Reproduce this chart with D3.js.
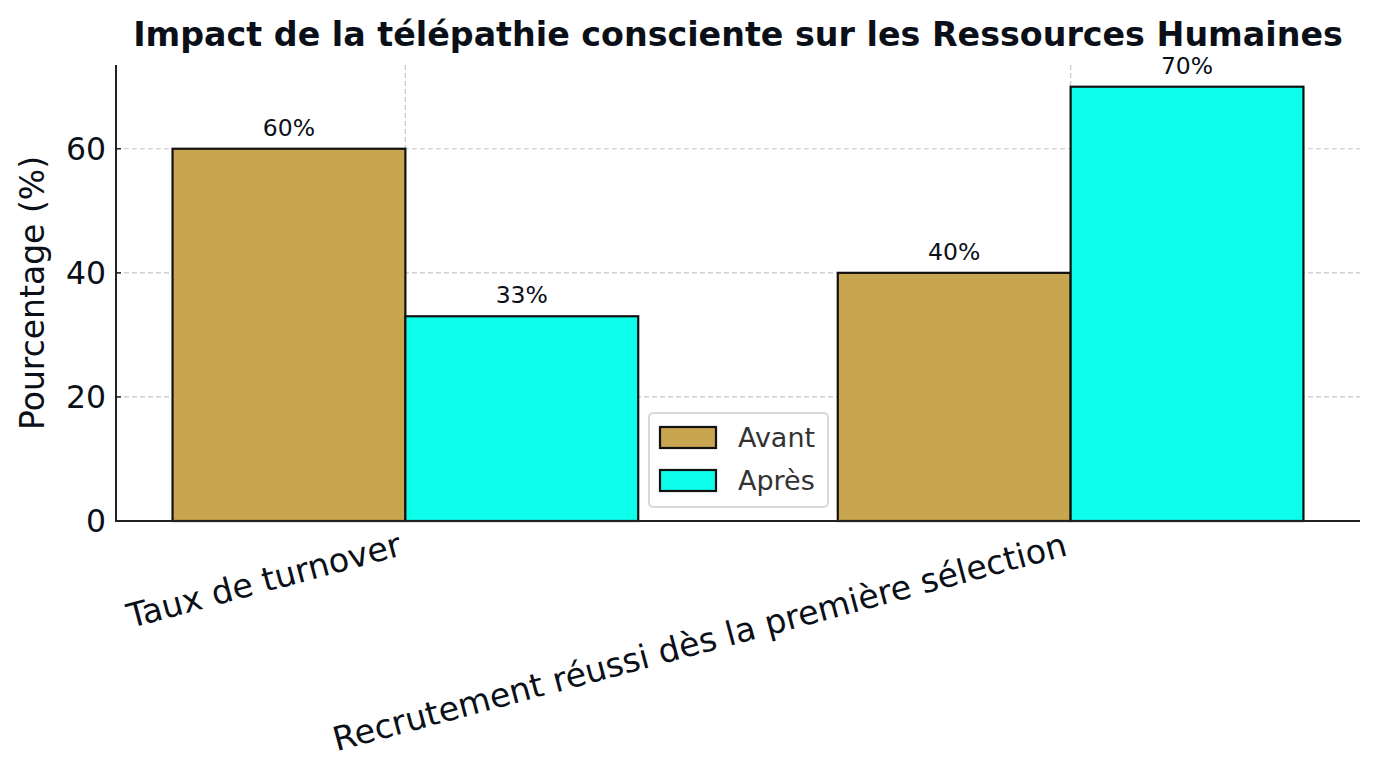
<!DOCTYPE html>
<html>
<head>
<meta charset="utf-8">
<script src="https://cdn.jsdelivr.net/npm/d3@7"></script>
<style>
  html, body { margin: 0; padding: 0; background: #fff; }
  svg { display: block; font-family: "DejaVu Sans", sans-serif; }
</style>
</head>
<body>
<svg id="chart" width="1380" height="780"></svg>
<script>
const categories = ["Taux de turnover", "Recrutement réussi dès la première sélection"];
const seriesNames = ["Avant", "Après"];
const avantValues = [60, 40];
const apresValues = [33, 70];
const yTicks = [0, 20, 40, 60];
const colors = ["#c8a54f", "#0efeec"];
const title = "Impact de la télépathie consciente sur les Ressources Humaines";
const yLabel = "Pourcentage (%)";

const svg = d3.select("#chart");
const pLeft = 116, pRight = 1360, pTop = 65, pBottom = 521;
const barWidth = 0.35;

const x = d3.scaleLinear().domain([-0.435, 1.435]).range([pLeft, pRight]);
const y = d3.scaleLinear().domain([0, 73.5]).range([pBottom, pTop]);

const txt = "#0b1018";

// grid (below bars)
const grid = svg.append("g");
yTicks.filter(t => t > 0).forEach(t => {
  grid.append("line").attr("x1", pLeft).attr("x2", pRight)
    .attr("y1", y(t)).attr("y2", y(t))
    .attr("stroke", "#c8c8c8").attr("stroke-width", 1.2).attr("stroke-dasharray", "5,3");
});
categories.forEach((c, i) => {
  grid.append("line").attr("x1", x(i)).attr("x2", x(i))
    .attr("y1", pTop).attr("y2", pBottom)
    .attr("stroke", "#c8c8c8").attr("stroke-width", 1.2).attr("stroke-dasharray", "5,3");
});

// bars
const series = [avantValues, apresValues];
series.forEach((vals, s) => {
  const offset = s === 0 ? -barWidth / 2 : barWidth / 2;
  svg.append("g").selectAll("rect").data(vals).join("rect")
    .attr("x", (d, i) => x(i + offset - barWidth / 2))
    .attr("width", (d, i) => x(i + offset + barWidth / 2) - x(i + offset - barWidth / 2))
    .attr("y", d => y(d))
    .attr("height", d => y(0) - y(d))
    .attr("fill", colors[s])
    .attr("stroke", "#111")
    .attr("stroke-width", 2.2);
  svg.append("g").selectAll("text").data(vals).join("text")
    .attr("x", (d, i) => x(i + offset))
    .attr("y", d => y(d) - 13)
    .attr("text-anchor", "middle")
    .attr("font-size", 23.5)
    .attr("fill", txt)
    .text(d => d + "%");
});

// spines
svg.append("line").attr("x1", pLeft).attr("x2", pLeft).attr("y1", pTop).attr("y2", pBottom + 1)
  .attr("stroke", "#222").attr("stroke-width", 2);
svg.append("line").attr("x1", pLeft - 1).attr("x2", pRight).attr("y1", pBottom).attr("y2", pBottom)
  .attr("stroke", "#222").attr("stroke-width", 2);

// y ticks
const yAxis = svg.append("g");
yTicks.forEach(t => {
  yAxis.append("line").attr("x1", pLeft).attr("x2", pLeft + 5).attr("y1", y(t)).attr("y2", y(t))
    .attr("stroke", "#222").attr("stroke-width", 1.5);
  yAxis.append("text").attr("x", pLeft - 10).attr("y", y(t)).attr("dy", "0.36em")
    .attr("text-anchor", "end").attr("font-size", 31.5).attr("fill", txt).text(t);
});

// x tick labels rotated
categories.forEach((c, i) => {
  svg.append("text")
    .attr("transform", `translate(${x(i) - 2},555) rotate(-15)`)
    .attr("text-anchor", "end")
    .attr("font-size", 33.4)
    .attr("fill", txt)
    .text(c);
});

// y label
svg.append("text")
  .attr("transform", `translate(44,${(pTop + pBottom) / 2}) rotate(-90)`)
  .attr("text-anchor", "middle")
  .attr("font-size", 33)
  .attr("fill", txt)
  .text(yLabel);

// title
svg.append("text")
  .attr("x", (pLeft + pRight) / 2).attr("y", 46)
  .attr("text-anchor", "middle")
  .attr("font-size", 33.3)
  .attr("font-weight", "bold")
  .attr("fill", txt)
  .text(title);

// legend
const lg = svg.append("g").attr("transform", "translate(649,413)");
lg.append("rect").attr("width", 179).attr("height", 94).attr("rx", 4)
  .attr("fill", "#fff").attr("fill-opacity", 0.9).attr("stroke", "#d9d9d9").attr("stroke-width", 2);
seriesNames.forEach((n, i) => {
  lg.append("rect").attr("x", 11).attr("y", 14 + i * 43).attr("width", 56).attr("height", 21)
    .attr("fill", colors[i]).attr("stroke", "#111").attr("stroke-width", 2.2);
  lg.append("text").attr("x", 89).attr("y", 24.5 + i * 43).attr("dy", "0.36em")
    .attr("font-size", 27).attr("fill", "#333").text(n);
});
</script>
</body>
</html>
